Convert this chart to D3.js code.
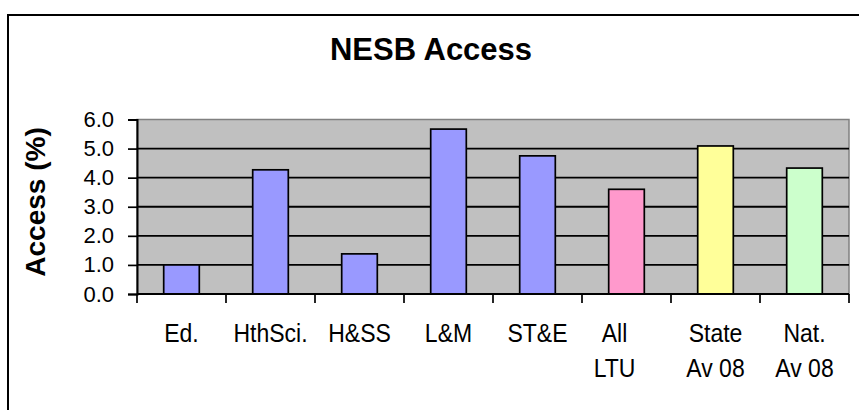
<!DOCTYPE html>
<meta charset="utf-8">
<script src="https://d3js.org/d3.v7.min.js"></script>
<style>
body { margin: 0; background: #fff; }
svg text { font-family: Arial, "Liberation Sans", sans-serif; fill: #000; }
</style>
<div id="chart"></div>
<script>
// data
var categories = ["Ed.", "HthSci.", "H&SS", "L&M", "ST&E", "All\nLTU", "State\nAv 08", "Nat.\nAv 08"];
var values = [1.0, 4.27, 1.38, 5.67, 4.75, 3.6, 5.09, 4.33];
var barColors = ["#9999FF", "#9999FF", "#9999FF", "#9999FF", "#9999FF", "#FF99CC", "#FFFF99", "#CCFFCC"];
var yTicks = [0, 1, 2, 3, 4, 5, 6];

var W = 859, H = 410;
var plot = {left: 137, right: 849, top: 119.5, bottom: 294};

var svg = d3.select("#chart").append("svg")
  .attr("width", W)
  .attr("height", H);

// outer chart border (runs off the right and bottom)
svg.append("rect")
  .attr("x", 8).attr("y", 15)
  .attr("width", 900).attr("height", 500)
  .attr("fill", "#fff")
  .attr("stroke", "#000")
  .attr("stroke-width", 2);

// title
svg.append("text")
  .attr("x", 431).attr("y", 60)
  .attr("text-anchor", "middle")
  .style("font-size", "31px")
  .style("font-weight", "bold")
  .text("NESB Access");

var x = d3.scaleBand()
  .domain(categories)
  .range([plot.left, plot.right])
  .paddingInner(0.6)
  .paddingOuter(0.3);

var y = d3.scaleLinear()
  .domain([0, 6])
  .range([plot.bottom, plot.top]);

// plot area
svg.append("rect")
  .attr("x", plot.left).attr("y", plot.top)
  .attr("width", plot.right - plot.left)
  .attr("height", plot.bottom - plot.top)
  .attr("fill", "#C0C0C0")
  .attr("stroke", "#808080")
  .attr("stroke-width", 1.5);

// gridlines
svg.append("g")
  .selectAll("line")
  .data(yTicks.filter(function(d) { return d > 0 && d < 6; }))
  .enter().append("line")
    .attr("x1", plot.left).attr("x2", plot.right)
    .attr("y1", function(d) { return y(d); })
    .attr("y2", function(d) { return y(d); })
    .attr("stroke", "#000")
    .attr("stroke-width", 1.8);

// bars
svg.append("g")
  .selectAll("rect")
  .data(values)
  .enter().append("rect")
    .attr("x", function(d, i) { return x(categories[i]); })
    .attr("y", function(d) { return y(d); })
    .attr("width", x.bandwidth())
    .attr("height", function(d) { return y(0) - y(d); })
    .attr("fill", function(d, i) { return barColors[i]; })
    .attr("stroke", "#000")
    .attr("stroke-width", 1.7);

// y axis
var yAxis = svg.append("g")
  .attr("transform", "translate(" + plot.left + ",0)")
  .call(d3.axisLeft(y)
    .tickValues(yTicks)
    .tickFormat(d3.format(".1f"))
    .tickSize(9)
    .tickPadding(14));
yAxis.select(".domain").attr("stroke", "#000").attr("stroke-width", 2);
yAxis.selectAll(".tick line").attr("stroke", "#000").attr("stroke-width", 1.7);
yAxis.selectAll("text")
  .style("font-size", "22px")
  .attr("font-family", null);

// x axis line
svg.append("line")
  .attr("x1", plot.left).attr("x2", plot.right)
  .attr("y1", y(0)).attr("y2", y(0))
  .attr("stroke", "#000")
  .attr("stroke-width", 2);

// x ticks at category boundaries
var edges = categories.map(function(c) { return x(c) - x.step() * x.paddingOuter(); });
edges.push(plot.right);
svg.append("g")
  .selectAll("line")
  .data(edges)
  .enter().append("line")
    .attr("x1", function(d) { return d; })
    .attr("x2", function(d) { return d; })
    .attr("y1", y(0)).attr("y2", y(0) + 9)
    .attr("stroke", "#000")
    .attr("stroke-width", 1.7);

// x labels, wrapped onto two lines where needed
var labels = svg.append("g")
  .selectAll("text")
  .data(categories)
  .enter().append("text")
    .attr("text-anchor", "middle")
    .attr("transform", function(d) {
      // the wrapped "All LTU" label sits a little left of its band in the original
      var shift = d === "All\nLTU" ? -12 : 0;
      return "translate(" + (x(d) + x.bandwidth() / 2 + shift) + ",341.5) scale(0.92,1)";
    })
    .style("font-size", "25px");

labels.selectAll("tspan")
  .data(function(d) { return d.split("\n"); })
  .enter().append("tspan")
    .attr("x", 0)
    .attr("dy", function(d, i) { return i === 0 ? 0 : 35.6; })
    .text(function(d) { return d; });

// y axis title
svg.append("text")
  .attr("transform", "translate(45,202) rotate(-90)")
  .attr("text-anchor", "middle")
  .style("font-size", "28px")
  .style("font-weight", "bold")
  .text("Access (%)");
</script>
